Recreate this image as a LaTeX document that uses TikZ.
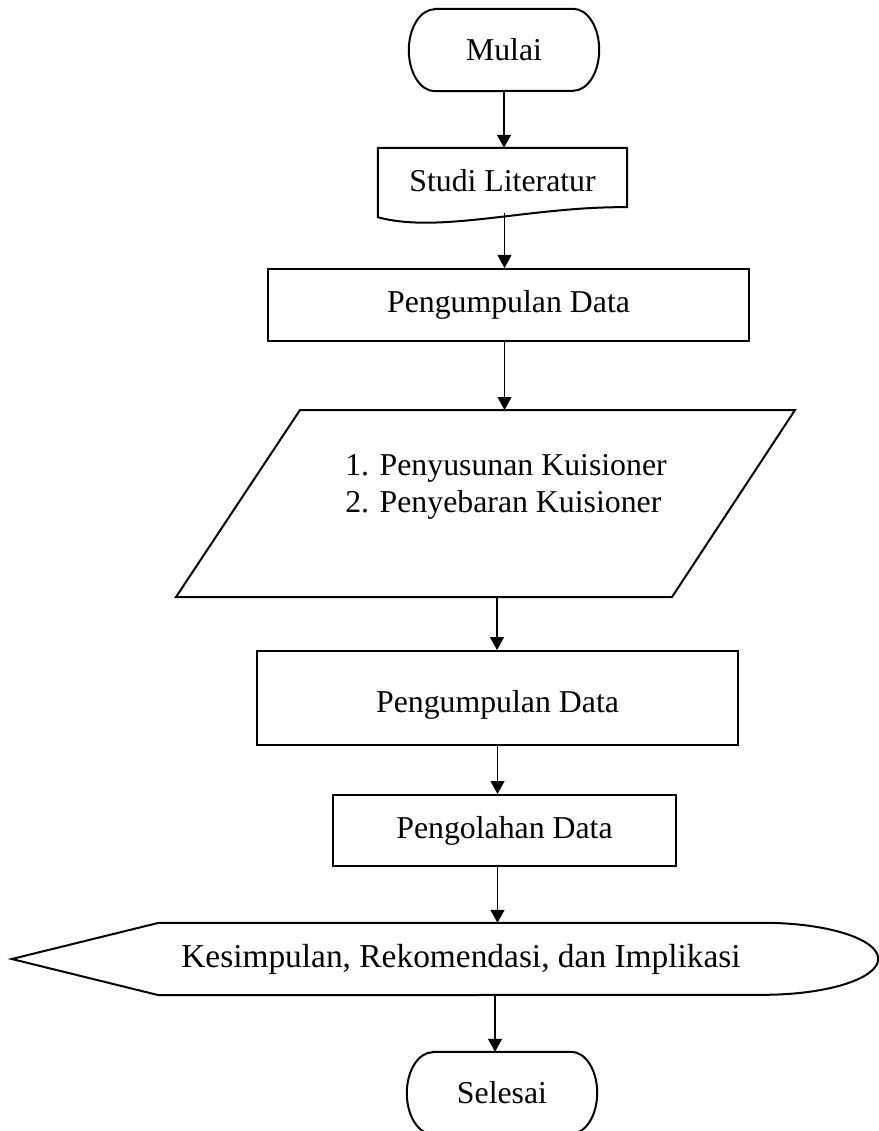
\documentclass[tikz,border=0pt]{standalone}
\usepackage{fontspec}
\setmainfont{Liberation Serif}
\usepackage{tikz}
\usetikzlibrary{arrows.meta}

\tikzset{
  every node/.style={font=\fontsize{31.8}{37}\selectfont},
  txt/.style={inner sep=0pt},
  block/.style={draw, line width=2pt, inner sep=0pt},
  outline/.style={line width=2pt, line join=miter},
  flow/.style={line width=1.1pt, -{Triangle[length=13pt,width=14pt]}}
}

\begin{document}
\begin{tikzpicture}[x=1pt,y=1pt]
        \useasboundingbox (0,0) rectangle (878,-1131);

        % Start
        \node[txt, minimum width=190, minimum height=82] (start) at (504,-50) {Mulai};

        % Literature study (document shape)
        \node[txt, minimum width=249, minimum height=65] (studi) at (502.5,-180.5) {Studi Literatur};
        \draw[outline] (studi.north west) -- (studi.north east) -- ([yshift=6]studi.south east)
            .. controls +(-97,1) and +(62,-17) .. ([yshift=-4]studi.south west) -- cycle;

        % First data collection
        \node[block, minimum width=481, minimum height=72] (data1) at (508.5,-305) {Pengumpulan Data};

        % Questionnaire (parallelogram)
        \node[txt, align=left] (kuis) at (506,-487) {1. Penyusunan Kuisioner\\2. Penyebaran Kuisioner};
        \coordinate (kuisTL) at (300,-410);
        \coordinate (kuisB) at (497,-597);
        \draw[outline] (kuisTL) -- (795,-410) -- (672,-597) -- (176,-597) -- cycle;

        % Second data collection and processing
        \node[block, minimum width=481, minimum height=94, text height=36pt, text depth=7pt] (data2) at (497.5,-698) {Pengumpulan Data};
        \node[block, minimum width=343, minimum height=71] (olah) at (504.5,-830.5) {Pengolahan Data};

        % Conclusion (display shape)
        \node[txt, minimum width=604, minimum height=72, font=\fontsize{33.4}{39}\selectfont] (hasil) at (461,-959) {Kesimpulan, Rekomendasi, dan Implikasi};
        \draw[outline] (hasil.north west) -- (hasil.north east)
            arc[start angle=90, end angle=-90, x radius=115, y radius=36]
            -- (hasil.south west) -- ([xshift=-147]hasil.west) -- cycle;

        % End
        \node[txt, minimum width=190, minimum height=82] (finish) at (502,-1093) {Selesai};

        % Terminator outlines
        \foreach \t in {start,finish}
            \draw[outline] ([xshift=26]\t.north west) -- ([xshift=-26]\t.north east)
                arc[start angle=90, end angle=-90, x radius=26, y radius=41]
                -- ([xshift=26]\t.south west)
                arc[start angle=270, end angle=90, x radius=26, y radius=41] -- cycle;

        % Connectors
        \draw[flow] (start.south) -- (start.south |- studi.north);
        \draw[flow] ([xshift=2]studi.south) -- ([xshift=2]studi.south |- data1.north);
        \draw[flow] ([xshift=-4]data1.south) -- ([xshift=-4]data1.south |- kuisTL);
        \draw[flow] (kuisB) -- (kuisB |- data2.north);
        \draw[flow] (data2.south) -- (data2.south |- olah.north);
        \draw[flow] ([xshift=-7]olah.south) -- ([xshift=-7]olah.south |- hasil.north);
        \draw[flow] ([xshift=34]hasil.south) -- ([xshift=34]hasil.south |- finish.north);
\end{tikzpicture}
\end{document}
